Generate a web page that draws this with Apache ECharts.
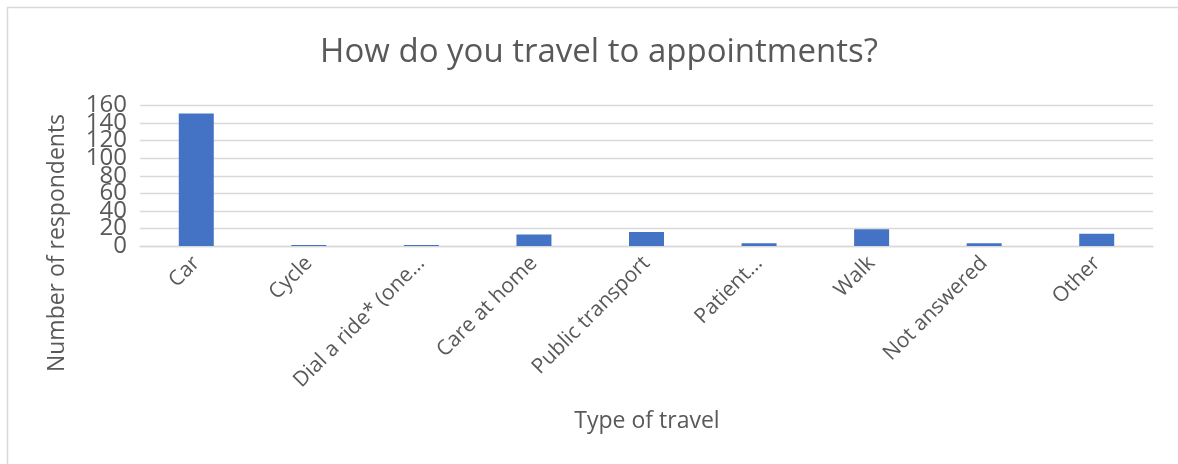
<!DOCTYPE html>
<html>
<head>
<meta charset="utf-8">
<title>How do you travel to appointments?</title>
<script src="https://cdn.jsdelivr.net/npm/echarts@6/dist/echarts.min.js"></script>
<style>
  html, body { margin: 0; padding: 0; background: #fff; }
  #chart { width: 1178px; height: 464px; }
</style>
</head>
<body>
<div id="chart"></div>
<script>
// Survey responses: how people travel to their appointments
const categories = [
  'Car', 'Cycle', 'Dial a ride* (one\u2026', 'Care at home', 'Public transport',
  'Patient\u2026', 'Walk', 'Not answered', 'Other'
];
const respondents = [151, 1, 1, 13, 16, 3, 19, 3, 14];
const yTicks = { min: 0, max: 160, step: 20 };

const FONT = '"Open Sans", "Noto Sans", sans-serif';
const TEXT = '#595959';
const GRID = '#d9d9d9';

// Plot area
const PLOT = { left: 140, right: 25, top: 105.5, bottom: 218 };
const plotHeight = 464 - PLOT.top - PLOT.bottom;
const stepPx = plotHeight * yTicks.step / (yTicks.max - yTicks.min);

// The tick labels are large relative to the 20-unit spacing, so they are
// drawn by two label-only axes, each carrying every other tick
// (0,40,..,160 and 20,60,..,140); the second sits on a grid widened by one
// step at each end so that its scale lines up with the main one.
const tickLabel = {
  margin: 13,
  fontFamily: FONT,
  fontSize: 24,
  color: TEXT,
  showMinLabel: true,
  showMaxLabel: true
};

const chart = echarts.init(document.getElementById('chart'), null, { renderer: 'canvas' });

chart.setOption({
  backgroundColor: '#ffffff',
  animation: false,
  title: {
    text: 'How do you travel to appointments?',
    left: 594,
    textAlign: 'center',
    top: 31,
    textStyle: { fontFamily: FONT, fontSize: 33, fontWeight: 'normal', color: TEXT }
  },
  grid: [
    { left: PLOT.left, right: PLOT.right, top: PLOT.top, bottom: PLOT.bottom },
    {
      left: PLOT.left, right: PLOT.right,
      top: PLOT.top - stepPx, bottom: PLOT.bottom - stepPx
    }
  ],
  xAxis: [
    {
      type: 'category',
      gridIndex: 0,
      data: categories,
      axisLine: { show: true, lineStyle: { color: GRID, width: 1.3 } },
      axisTick: { show: false },
      axisLabel: {
        rotate: 45,
        margin: 14,
        interval: 0,
        fontFamily: FONT,
        fontSize: 21,
        color: TEXT
      }
    },
    { type: 'category', gridIndex: 1, data: categories, show: false }
  ],
  yAxis: [
    {
      // gridlines every 20
      type: 'value',
      gridIndex: 0,
      min: yTicks.min,
      max: yTicks.max,
      interval: yTicks.step,
      axisLine: { show: false },
      axisTick: { show: false },
      axisLabel: { show: false },
      splitLine: { lineStyle: { color: GRID, width: 1.3 } }
    },
    {
      // labels 0, 40, 80, 120, 160
      type: 'value',
      gridIndex: 0,
      min: yTicks.min,
      max: yTicks.max,
      interval: yTicks.step * 2,
      position: 'left',
      axisLine: { show: false },
      axisTick: { show: false },
      splitLine: { show: false },
      axisLabel: tickLabel
    },
    {
      // labels 20, 60, 100, 140
      type: 'value',
      gridIndex: 1,
      min: yTicks.min - yTicks.step,
      max: yTicks.max + yTicks.step,
      interval: yTicks.step * 2,
      position: 'left',
      axisLine: { show: false },
      axisTick: { show: false },
      splitLine: { show: false },
      axisLabel: Object.assign({}, tickLabel, {
        formatter: v => (v < yTicks.min || v > yTicks.max) ? '' : String(v)
      })
    }
  ],
  series: [{
    type: 'bar',
    xAxisIndex: 0,
    yAxisIndex: 0,
    data: respondents,
    barWidth: 35,
    itemStyle: { color: '#4472C4' }
  }],
  graphic: [
    {
      type: 'rect',
      shape: { x: 7.5, y: 7.5, width: 1200, height: 500 },
      style: { fill: 'none', stroke: GRID, lineWidth: 1.5 },
      silent: true
    },
    {
      type: 'text',
      x: 57,
      y: 243,
      rotation: Math.PI / 2,
      style: {
        text: 'Number of respondents',
        fontFamily: FONT,
        fontSize: 23,
        fill: TEXT,
        align: 'center',
        verticalAlign: 'middle'
      }
    },
    {
      type: 'text',
      x: 647,
      y: 421,
      style: {
        text: 'Type of travel',
        fontFamily: FONT,
        fontSize: 23,
        fill: TEXT,
        align: 'center',
        verticalAlign: 'middle'
      }
    }
  ]
});
</script>
</body>
</html>
